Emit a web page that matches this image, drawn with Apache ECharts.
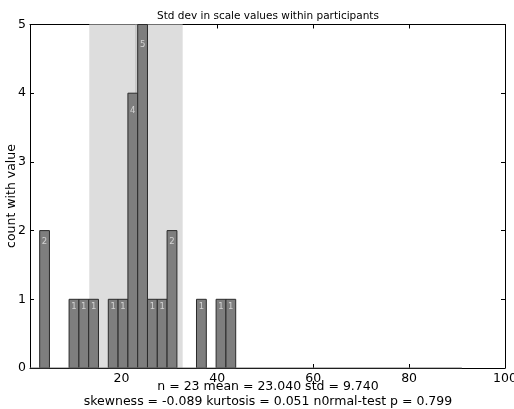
<!DOCTYPE html>
<html>
<head>
<meta charset="utf-8">
<script src="https://cdn.jsdelivr.net/npm/echarts@6/dist/echarts.min.js"></script>
<style>
html,body{margin:0;padding:0;background:#fff;}
#c{width:514px;height:409px;}
</style>
</head>
<body>
<div id="c"></div>
<script>
// ---- data ----
var binLefts  = [2.96, 5.00, 7.05, 9.09, 11.14, 13.18, 15.22, 17.27, 19.31, 21.36,
                 23.40, 25.44, 27.49, 29.53, 31.58, 33.62, 35.66, 37.71, 39.75, 41.80];
var binRights = [5.00, 7.05, 9.09, 11.14, 13.18, 15.22, 17.27, 19.31, 21.36, 23.40,
                 25.44, 27.49, 29.53, 31.58, 33.62, 35.66, 37.71, 39.75, 41.80, 43.84];
var counts    = [2, 0, 0, 1, 1, 1, 0, 1, 1, 4, 5, 1, 1, 2, 0, 0, 1, 0, 1, 1];
var meanVal = 23.040;
var stdVal = 9.740;
var xTicks = [20, 40, 60, 80, 100];
var yTicks = [0, 1, 2, 3, 4, 5];
var xMin = 0.94, xMax = 100;
var baseLineX = [0.94, 91];
var titleText = 'Std dev in scale values within participants';
var yName = 'count with value';
var statLine1 = 'n = 23 mean = 23.040 std = 9.740';
var statLine2 = 'skewness = -0.089 kurtosis = 0.051 n0rmal-test p = 0.799';

// ---- build ----
var barData = [], labelData = [];
for (var i = 0; i < counts.length; i++) {
  if (counts[i] > 0) {
    barData.push([binLefts[i], binRights[i], counts[i]]);
    labelData.push([(binLefts[i] + binRights[i]) / 2, counts[i] * 0.955 - 0.07, counts[i]]);
  }
}
var FONT = 'DejaVu Sans';
var chart = echarts.init(document.getElementById('c'), null, {renderer: 'canvas'});
var G = {left: 30, right: 9, top: 24.5, bottom: 41, containLabel: false, outerBoundsMode: 'none'};
var option = {
  animation: false,
  backgroundColor: '#ffffff',
  grid: G,
  xAxis: [{
    type: 'value', min: xMin, max: xMax, position: 'bottom',
    axisLine: {show: true, onZero: false, lineStyle: {color: '#000', width: 1}},
    axisTick: {show: true, inside: true, length: 4, customValues: xTicks, lineStyle: {color: '#000'}},
    axisLabel: {show: true, customValues: xTicks, margin: 4, fontFamily: FONT, fontSize: 12.5, color: '#000'},
    splitLine: {show: false}
  }, {
    type: 'value', min: xMin, max: xMax, position: 'top',
    axisLine: {show: true, onZero: false, lineStyle: {color: '#000', width: 1}},
    axisTick: {show: true, inside: true, length: 4, customValues: xTicks, lineStyle: {color: '#000'}},
    axisLabel: {show: false},
    splitLine: {show: false}
  }],
  yAxis: [{
    type: 'value', min: 0, max: 5, interval: 1, position: 'left',
    axisLine: {show: true, lineStyle: {color: '#000', width: 1}},
    axisTick: {show: true, inside: true, length: 4, lineStyle: {color: '#000'}},
    axisLabel: {margin: 4, fontFamily: FONT, fontSize: 12.5, color: '#000'},
    splitLine: {show: false}
  }, {
    type: 'value', min: 0, max: 5, interval: 1, position: 'right',
    axisLine: {show: true, lineStyle: {color: '#000', width: 1}},
    axisTick: {show: true, inside: true, length: 4, lineStyle: {color: '#000'}},
    axisLabel: {show: false},
    splitLine: {show: false}
  }],
  series: [
    {
      type: 'line', xAxisIndex: 0, yAxisIndex: 0, z: 1,
      data: [[meanVal, 0], [meanVal, 5]], symbol: 'none', silent: true,
      lineStyle: {color: '#b4b4b4', width: 1},
      markArea: {
        silent: true,
        itemStyle: {color: '#dddddd'},
        data: [[{xAxis: meanVal - stdVal}, {xAxis: meanVal + stdVal}]]
      }
    },
    {
      type: 'custom', xAxisIndex: 0, yAxisIndex: 0, z: 3,
      data: barData,
      renderItem: function (params, api) {
        var p0 = api.coord([api.value(0), api.value(2)]);
        var p1 = api.coord([api.value(1), 0]);
        return {
          type: 'rect',
          shape: {x: p0[0], y: p0[1], width: p1[0] - p0[0], height: p1[1] - p0[1]},
          style: {fill: '#7e7e7e', stroke: '#2a2a2a', lineWidth: 1}
        };
      }
    },
    {
      type: 'line', xAxisIndex: 0, yAxisIndex: 0, z: 4,
      data: [[baseLineX[0], 0], [baseLineX[1], 0]], symbol: 'none', silent: true,
      lineStyle: {color: '#777777', width: 1.2}
    },
    {
      type: 'scatter', xAxisIndex: 0, yAxisIndex: 0, z: 5,
      data: labelData, symbolSize: 0, silent: true,
      label: {
        show: true, position: 'inside',
        formatter: function (p) { return String(p.value[2]); },
        fontFamily: FONT, fontSize: 8.5, color: '#e6e6e6'
      }
    }
  ],
  graphic: [
    {type: 'text', x: 268, y: 11, style: {text: titleText, fontFamily: FONT, fontSize: 10.5, fill: '#000', textAlign: 'center'}},
    {type: 'text', x: 12, y: 196, rotation: Math.PI / 2,
     style: {text: yName, fontFamily: FONT, fontSize: 12.5, fill: '#000', textAlign: 'center', textVerticalAlign: 'middle'}},
    {type: 'text', x: 268, y: 380.5, style: {text: statLine1, fontFamily: FONT, fontSize: 12.5, fill: '#000', textAlign: 'center'}},
    {type: 'text', x: 268, y: 395.5, style: {text: statLine2, fontFamily: FONT, fontSize: 12.5, fill: '#000', textAlign: 'center'}}
  ]
};
chart.setOption(option);
</script>
</body>
</html>
